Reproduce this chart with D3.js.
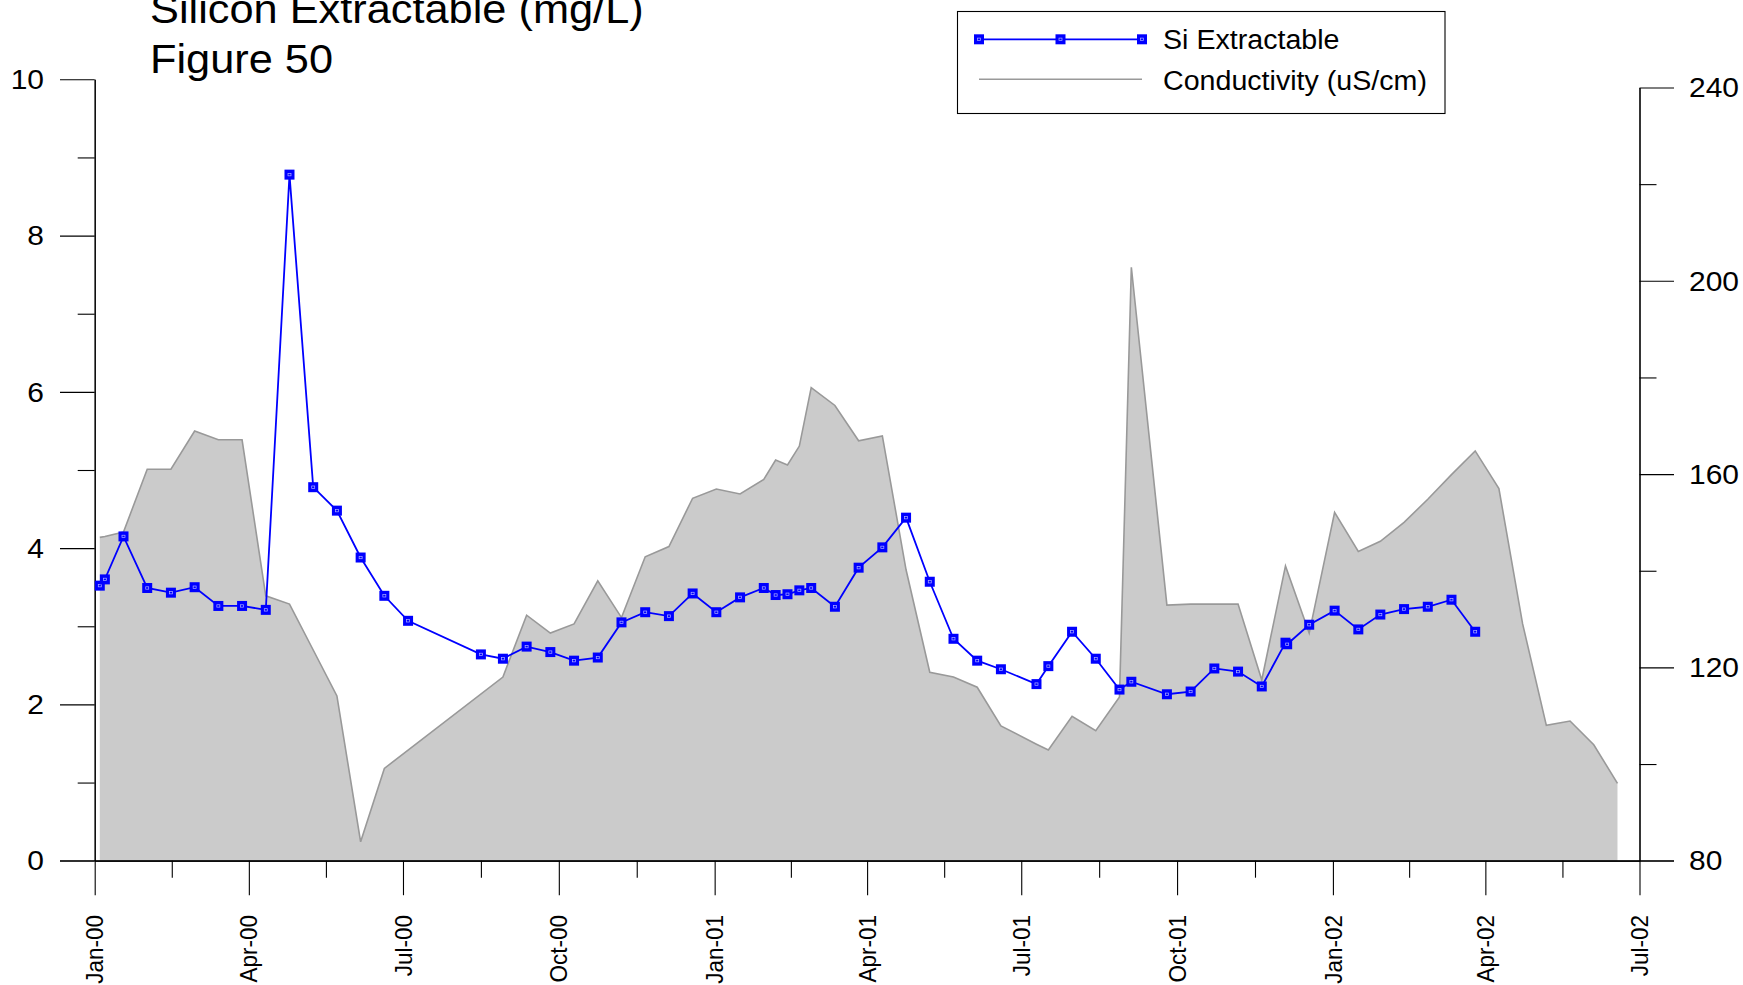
<!DOCTYPE html>
<html>
<head>
<meta charset="utf-8">
<script src="https://cdn.jsdelivr.net/npm/d3@7"></script>
<style>
  html, body { margin: 0; padding: 0; background: #fff; }
  svg { display: block; }
  text { font-family: "Liberation Sans", Arial, Helvetica, sans-serif; fill: #000; }
</style>
</head>
<body>
<svg id="chart" width="1743" height="985"></svg>
<script>
// ---------------- data ----------------
const titleLines = ["Silicon Extractable (mg/L)", "Figure 50"];
const legendLabels = ["Si Extractable", "Conductivity (uS/cm)"];

const siDates = [
  "2000-01-04","2000-01-07","2000-01-18","2000-02-01","2000-02-15","2000-02-29","2000-03-14","2000-03-28",
  "2000-04-11","2000-04-25","2000-05-09","2000-05-23","2000-06-06","2000-06-20","2000-07-04","2000-08-16",
  "2000-08-29","2000-09-12","2000-09-26","2000-10-10","2000-10-24","2000-11-07","2000-11-21","2000-12-05",
  "2000-12-19","2001-01-02","2001-01-16","2001-01-30","2001-02-06","2001-02-13","2001-02-20","2001-02-27",
  "2001-03-13","2001-03-27","2001-04-10","2001-04-24","2001-05-08","2001-05-22","2001-06-05","2001-06-19",
  "2001-07-10","2001-07-17","2001-07-31","2001-08-14","2001-08-28","2001-09-04","2001-09-25","2001-10-09",
  "2001-10-23","2001-11-06","2001-11-20","2001-12-04","2001-12-05","2001-12-18","2002-01-02","2002-01-16",
  "2002-01-29","2002-02-12","2002-02-26","2002-03-12","2002-03-26"
];
const siValues = [
  3.52, 3.60, 4.15, 3.49, 3.43, 3.50, 3.26, 3.26,
  3.21, 8.78, 4.78, 4.48, 3.88, 3.39, 3.07, 2.64,
  2.585, 2.74, 2.67, 2.56, 2.60, 3.05, 3.18, 3.13,
  3.42, 3.18, 3.37, 3.49, 3.40, 3.41, 3.46, 3.49,
  3.25, 3.75, 4.01, 4.39, 3.57, 2.84, 2.56, 2.45,
  2.26, 2.49, 2.93, 2.585, 2.19, 2.29, 2.13, 2.165,
  2.46, 2.42, 2.23, 2.79, 2.77, 3.02, 3.20, 2.96,
  3.15, 3.22, 3.25, 3.34, 2.93
];

const condDates = [
  "2000-01-04","2000-01-07","2000-01-18","2000-02-01","2000-02-15","2000-02-29","2000-03-14","2000-03-28",
  "2000-04-11","2000-04-25","2000-05-09","2000-05-23","2000-06-06","2000-06-20","2000-08-29","2000-09-12",
  "2000-09-26","2000-10-10","2000-10-24","2000-11-07","2000-11-21","2000-12-05","2000-12-19","2001-01-02",
  "2001-01-16","2001-01-30","2001-02-06","2001-02-13","2001-02-20","2001-02-27","2001-03-13","2001-03-27",
  "2001-04-10","2001-04-24","2001-05-08","2001-05-22","2001-06-05","2001-06-19","2001-07-10","2001-07-17",
  "2001-07-31","2001-08-14","2001-08-28","2001-09-04","2001-09-25","2001-10-09","2001-10-23","2001-11-06",
  "2001-11-20","2001-12-04","2001-12-18","2002-01-02","2002-01-16","2002-01-29","2002-02-12","2002-02-26",
  "2002-03-12","2002-03-26","2002-04-09","2002-04-23","2002-05-07","2002-05-21","2002-06-04","2002-06-18"
];
const condValues = [
  146.9, 147.1, 148.0, 161.0, 161.0, 168.9, 167.1, 167.1,
  134.8, 133.1, 123.6, 114.1, 83.9, 99.1, 118.0, 130.8,
  127.1, 129.0, 137.9, 130.3, 142.9, 145.0, 155.0, 156.9,
  155.9, 158.9, 162.9, 161.9, 165.8, 177.9, 174.2, 166.9,
  167.9, 140.2, 119.0, 118.0, 115.9, 107.9, 104.1, 102.9,
  109.9, 106.9, 113.9, 202.8, 132.9, 133.1, 133.1, 133.1,
  117.4, 141.0, 127.1, 152.1, 144.0, 146.1, 150.0, 154.8,
  159.9, 164.8, 157.0, 129.0, 108.0, 108.9, 104.0, 96.0
];

const xTickDates = ["2000-01-01","2000-04-01","2000-07-01","2000-10-01","2001-01-01","2001-04-01",
                    "2001-07-01","2001-10-01","2002-01-01","2002-04-01","2002-07-01"];
const xTickLabels = ["Jan-00","Apr-00","Jul-00","Oct-00","Jan-01","Apr-01",
                     "Jul-01","Oct-01","Jan-02","Apr-02","Jul-02"];
const leftTicks = [0, 2, 4, 6, 8, 10];
const leftMinor = [1, 3, 5, 7, 9];
const rightTicks = [80, 120, 160, 200, 240];
const rightMinor = [100, 140, 180, 220];

// ---------------- layout ----------------
const parse = d3.utcParse("%Y-%m-%d");
const svg = d3.select("#chart");

const x = d3.scaleUtc()
  .domain([parse(xTickDates[0]), parse(xTickDates[xTickDates.length - 1])])
  .range([94.7, 1639.5]);
const yL = d3.scaleLinear().domain([0, 10]).range([860.7, 79.3]);
const yR = d3.scaleLinear().domain([80, 240]).range([860.7, 87.5]);

function txt(px, py, s, size, anchor, rot, dy, sx) {
  return svg.append("text")
    .attr("transform", `translate(${px},${py}) scale(${sx || 1.06},1)` + (rot ? ` rotate(${rot})` : ""))
    .attr("text-anchor", anchor || "start")
    .attr("dy", dy || 0)
    .style("font-size", size + "px")
    .text(s);
}

// ---------------- conductivity area ----------------
const cond = condDates.map((d, i) => ({ date: parse(d), v: condValues[i] }));
svg.append("path")
  .datum(cond)
  .attr("fill", "#cbcbcb")
  .attr("stroke", "none")
  .attr("d", d3.area().x(d => x(d.date)).y0(yR(80)).y1(d => yR(d.v)));
svg.append("path")
  .datum(cond)
  .attr("fill", "none")
  .attr("stroke", "#999999")
  .attr("stroke-width", 1.6)
  .attr("d", d3.line().x(d => x(d.date)).y(d => yR(d.v)));

// ---------------- axes ----------------
const axisStyle = g => {
  g.selectAll("path, line").attr("stroke", "#000").attr("stroke-width", 1.1);
  g.selectAll("text").remove();
};
svg.append("g").attr("transform", `translate(${x.range()[0]},0)`)
  .call(d3.axisLeft(yL).tickValues(leftTicks).tickSize(34.7).tickSizeOuter(0).tickFormat(""))
  .call(axisStyle);
svg.append("g").attr("transform", `translate(${x.range()[0]},0)`)
  .call(d3.axisLeft(yL).tickValues(leftMinor).tickSize(17).tickSizeOuter(0).tickFormat(""))
  .call(axisStyle);
svg.append("g").attr("transform", `translate(${x.range()[1]},0)`)
  .call(d3.axisRight(yR).tickValues(rightTicks).tickSize(34.5).tickSizeOuter(0).tickFormat(""))
  .call(axisStyle);
svg.append("g").attr("transform", `translate(${x.range()[1]},0)`)
  .call(d3.axisRight(yR).tickValues(rightMinor).tickSize(17).tickSizeOuter(0).tickFormat(""))
  .call(axisStyle);

const xMajor = xTickDates.map(parse);
const xMinor = d3.pairs(xMajor).map(([a, b]) => new Date((+a + +b) / 2));
svg.append("g").attr("transform", `translate(0,${yL(0)})`)
  .call(d3.axisBottom(x).tickValues(xMajor).tickSize(34.5).tickSizeOuter(0).tickFormat(""))
  .call(axisStyle);
svg.append("g").attr("transform", `translate(0,${yL(0)})`)
  .call(d3.axisBottom(x).tickValues(xMinor).tickSize(17).tickSizeOuter(0).tickFormat(""))
  .call(axisStyle);
svg.append("line").attr("x1", 60).attr("x2", 1674).attr("y1", yL(0)).attr("y2", yL(0))
  .attr("stroke", "#000").attr("stroke-width", 1.1);

// tick labels
leftTicks.forEach(t => txt(44, yL(t), String(t), 27, "end", 0, "0.36em", 1.11));
rightTicks.forEach(t => txt(1689, yR(t), String(t), 27, "start", 0, "0.36em", 1.11));
xMajor.forEach((d, i) => txt(x(d), 915, xTickLabels[i], 22.5, "end", -90, "0.36em", 1.06));

// ---------------- Si series ----------------
const si = siDates.map((d, i) => ({ date: parse(d), v: siValues[i] }));
svg.append("path")
  .datum(si)
  .attr("fill", "none")
  .attr("stroke", "#0000ff")
  .attr("stroke-width", 1.8)
  .attr("d", d3.line().x(d => x(d.date)).y(d => yL(d.v)));

function marker(g, cx, cy) {
  g.append("rect").attr("x", cx - 5).attr("y", cy - 5).attr("width", 10).attr("height", 10)
    .attr("fill", "#0000ff");
  g.append("rect").attr("x", cx - 1.5).attr("y", cy - 1.2).attr("width", 3).attr("height", 2.4)
    .attr("fill", "none").attr("stroke", "#b0b0ff").attr("stroke-width", 0.7);
}
const mg = svg.append("g");
si.forEach(d => marker(mg, x(d.date), yL(d.v)));

// ---------------- title ----------------
txt(150, 23, titleLines[0], 40.5, "start", 0, 0, 1.07);
txt(150, 73, titleLines[1], 40.5, "start", 0, 0, 1.07);

// ---------------- legend ----------------
svg.append("rect").attr("x", 957.5).attr("y", 11.5).attr("width", 487.5).attr("height", 102)
  .attr("fill", "#fff").attr("stroke", "#000").attr("stroke-width", 1.1);
svg.append("line").attr("x1", 979).attr("x2", 1142).attr("y1", 39.3).attr("y2", 39.3)
  .attr("stroke", "#0000ff").attr("stroke-width", 1.8);
[979, 1060.5, 1142].forEach(px => marker(svg, px, 39.3));
svg.append("line").attr("x1", 979).attr("x2", 1142).attr("y1", 79.3).attr("y2", 79.3)
  .attr("stroke", "#999999").attr("stroke-width", 1.6);
txt(1163, 39.3, legendLabels[0], 27, "start", 0, "0.36em", 1.06);
txt(1163, 79.8, legendLabels[1], 27, "start", 0, "0.36em", 1.06);
</script>
</body>
</html>
